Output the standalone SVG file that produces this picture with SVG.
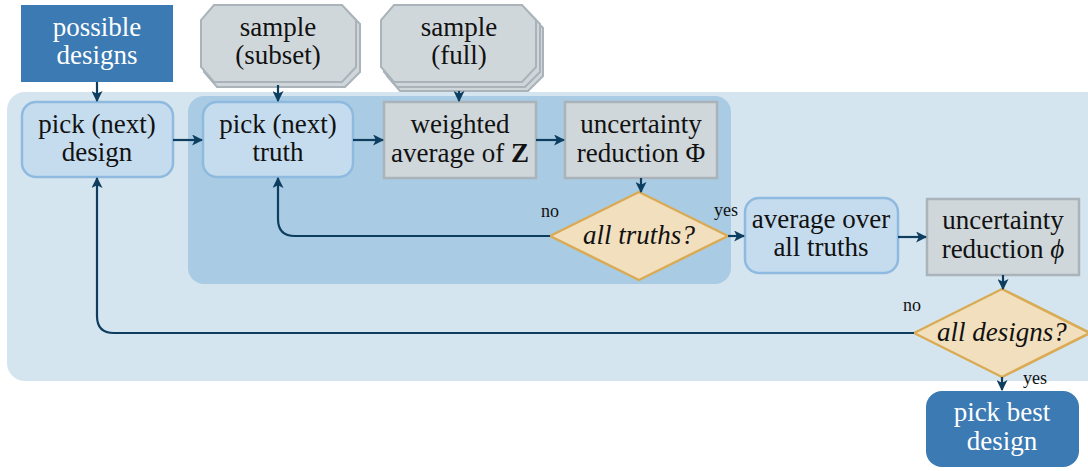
<svg xmlns="http://www.w3.org/2000/svg" width="1088" height="471" viewBox="0 0 1088 471" font-family="'Liberation Serif', 'DejaVu Serif', serif">
<defs>
<style>
text{font-family:'Liberation Serif','DejaVu Serif',serif}
.t{font-size:27px;fill:#111;text-anchor:middle}
.w{fill:#fff}
.i{font-style:italic}
.lb{font-size:18px;fill:#111}
.dark{fill:#3c7ab3}
.soft{fill:#c5dcee;stroke:#8fbadf;stroke-width:2.5}
.gray{fill:#d0d7db;stroke:#a9b3b9;stroke-width:2.5}
.oct{fill:#d0d7db;stroke:#a9b3b9;stroke-width:2}
.dia{fill:#f1dfbe;stroke:#d9ab55;stroke-width:2.5;stroke-linejoin:round}
.c{fill:none;stroke:#0d3d5f;stroke-width:2.2;marker-end:url(#ah)}
</style>
<marker id="ah" viewBox="0 0 10 10" refX="9" refY="5" markerWidth="11" markerHeight="11" orient="auto" markerUnits="userSpaceOnUse">
<path d="M0,0 L10,5 L0,10 L2.5,5 Z" fill="#0d3d5f"/>
</marker>
</defs>
<g id="panels">
<rect x="7" y="92" width="1100" height="289" rx="18" fill="#d5e5f0"/>
<rect x="188" y="96" width="543" height="188" rx="16" fill="#a9cbe3"/>
</g>
<g id="possible-designs">
<rect class="dark" x="21" y="5" width="152" height="77"/>
<text class="t w" x="97" y="36">possible</text>
<text class="t w" x="97" y="64">designs</text>
</g>
<g id="sample-subset">
<path class="oct" d="M217,9 H345 L360,24 V72 L345,87 H217 L204,72 V24 Z"/>
<path class="oct" d="M214,5 H342 L356,20 V67 L342,82 H214 L201,67 V20 Z"/>
<text class="t" x="278" y="36">sample</text>
<text class="t" x="278" y="64">(subset)</text>
</g>
<g id="sample-full">
<path class="oct" d="M400,13 H528 L543,28 V76 L528,91 H400 L387,76 V28 Z"/>
<path class="oct" d="M397,9 H525 L540,24 V72 L525,87 H397 L384,72 V24 Z"/>
<path class="oct" d="M394,5 H522 L536,20 V67 L522,82 H394 L381,67 V20 Z"/>
<text class="t" x="459" y="36">sample</text>
<text class="t" x="459" y="64">(full)</text>
</g>
<g id="pick-design">
<rect class="soft" x="22" y="102" width="151" height="75" rx="14"/>
<text class="t" x="97" y="133">pick (next)</text>
<text class="t" x="97" y="161">design</text>
</g>
<g id="pick-truth">
<rect class="soft" x="203" y="102" width="150" height="75" rx="14"/>
<text class="t" x="278" y="133">pick (next)</text>
<text class="t" x="278" y="161">truth</text>
</g>
<g id="weighted-average">
<rect class="gray" x="384" y="102" width="152" height="76"/>
<text class="t" x="460" y="133">weighted</text>
<text class="t" x="460" y="162">average of <tspan font-weight="bold">Z</tspan></text>
</g>
<g id="uncertainty-Phi">
<rect class="gray" x="565" y="102" width="152" height="76"/>
<text class="t" x="641" y="133">uncertainty</text>
<text class="t" x="641" y="162">reduction Φ</text>
</g>
<g id="all-truths">
<path class="dia" d="M639,192 L728,236 L639,280 L550,236 Z"/>
<text class="t i" x="639" y="244">all truths?</text>
</g>
<g id="average-truths">
<rect class="soft" x="745" y="198" width="153" height="75" rx="14"/>
<text class="t" x="821" y="228">average over</text>
<text class="t" x="821" y="256">all truths</text>
</g>
<g id="uncertainty-phi">
<rect class="gray" x="927" y="199" width="152" height="76"/>
<text class="t" x="1003" y="229">uncertainty</text>
<text class="t" x="1003" y="258">reduction <tspan class="i">ϕ</tspan></text>
</g>
<g id="all-designs">
<path class="dia" d="M1002,289 L1090,333 L1002,377 L914,333 Z"/>
<text class="t i" x="1002" y="341">all designs?</text>
</g>
<g id="pick-best">
<rect class="dark" x="926" y="391" width="153" height="76" rx="16"/>
<text class="t w" x="1002" y="421">pick best</text>
<text class="t w" x="1002" y="450">design</text>
</g>
<g id="connectors">
<path class="c" d="M97,82 V101"/>
<path class="c" d="M278,85 V101"/>
<path class="c" d="M459,91 V101"/>
<path class="c" d="M173,140 H202"/>
<path class="c" d="M353,140 H383"/>
<path class="c" d="M536,140 H564"/>
<path class="c" d="M641,178 V192"/>
<path class="c" d="M550,236 H295 Q278,236 278,219 V178"/>
<path class="c" d="M728,236 H744"/>
<path class="c" d="M898,237 H926"/>
<path class="c" d="M1003,275 V289"/>
<path class="c" d="M914,333 H114 Q97,333 97,316 V178"/>
<path class="c" d="M1002,377 V390"/>
</g>
<g id="labels">
<text class="lb" x="541" y="217">no</text>
<text class="lb" x="714" y="216">yes</text>
<text class="lb" x="903" y="311">no</text>
<text class="lb" x="1023" y="384">yes</text>
</g>
</svg>
